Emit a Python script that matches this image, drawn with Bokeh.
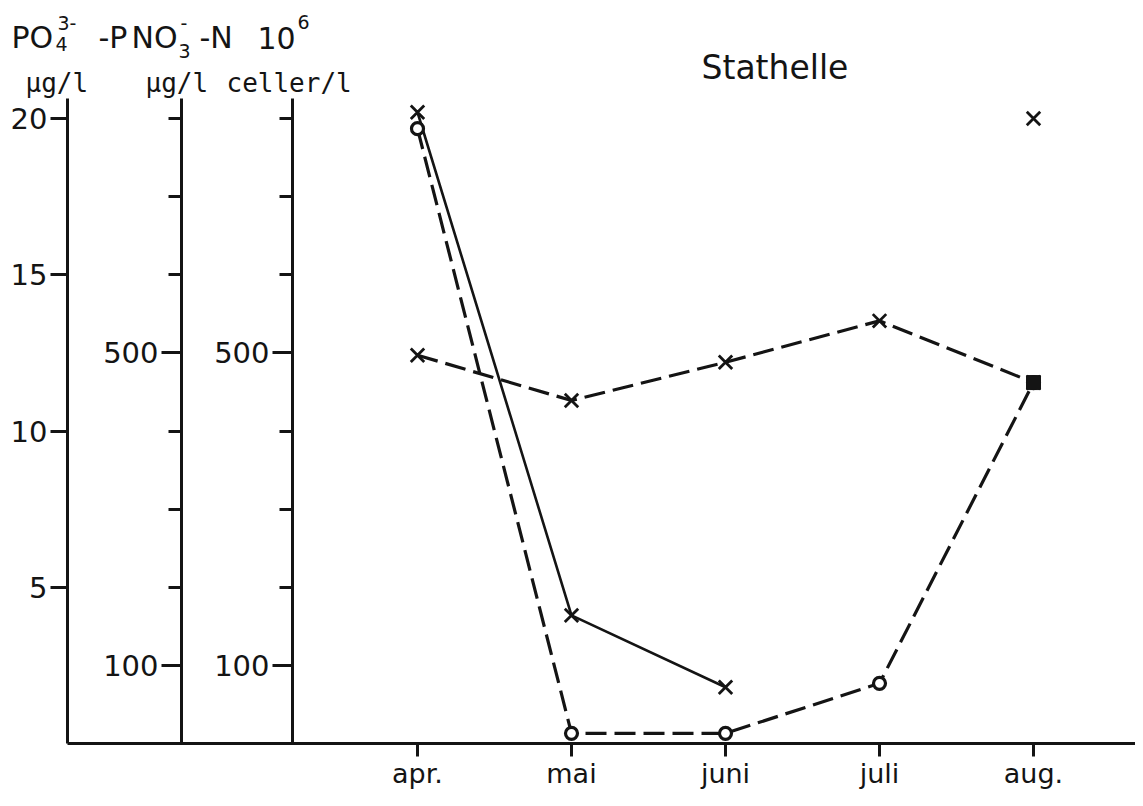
from bokeh.plotting import figure
from bokeh.models import Range1d, LinearAxis, FixedTicker, Label
from bokeh.embed import file_html
from bokeh.resources import INLINE

# ---------------- data ----------------
months = ["apr.", "mai", "juni", "juli", "aug."]
month_x = [0, 1, 2, 3, 4]
po4 = [20.2, 4.1, 1.8, float("nan"), 20.0]     # PO4(3-)-P, ug/l   (solid, x)
no3 = [787, 13, 13, 77, 462]                   # NO3(-)-N, ug/l    (dashed, o)
cells = [497, 439, 488, 541, 462]              # 10^6 celler/l     (dashed, x)

po4_ticks = [5, 10, 15, 20]
no3_ticks = [100, 500]
no3_minor = [200, 300, 400, 600, 700, 800]
cells_ticks = [100, 500]
cells_minor = [200, 300, 400, 600, 700, 800]

# ---------------- layout ----------------
INK = "#141414"
FONT = "DejaVu Sans"
MONO = "DejaVu Sans Mono"
W, H = 1135, 790
PX_X = 154.0            # px per month
X0 = 417.0              # px of first month
BASE = 743.0            # px of the zero line
PX_Y = 0.78125          # px per ug/l
AX_TOP = 98.0           # px where the vertical axes end

x_start = -X0 / PX_X
x_end = (W - X0) / PX_X
y_start = -(H - BASE) / PX_Y
y_end = BASE / PX_Y


def sx(px):
    return (px - X0) / PX_X


def sy(py):
    return (BASE - py) / PX_Y


top = sy(AX_TOP)

p = figure(width=W, height=H, output_backend="svg", toolbar_location=None,
           x_range=Range1d(x_start, x_end), y_range=Range1d(y_start, y_end),
           x_axis_location=None, y_axis_location=None,
           min_border_left=0, min_border_right=0, min_border_top=0, min_border_bottom=0)
p.extra_y_ranges = {"po4": Range1d(y_start / 40.0, y_end / 40.0),
                    "cells": Range1d(y_start, y_end)}
p.outline_line_color = None
p.grid.visible = False
p.background_fill_color = "white"
p.border_fill_color = "white"


def style(ax, tick_out, minor_out, size="29px", standoff=3, font=FONT):
    ax.axis_line_color = INK
    ax.axis_line_width = 3
    ax.major_tick_line_color = INK
    ax.major_tick_line_width = 3
    ax.major_tick_in = 0
    ax.major_tick_out = tick_out
    ax.minor_tick_line_color = INK
    ax.minor_tick_line_width = 3
    ax.minor_tick_in = 0
    ax.minor_tick_out = minor_out
    ax.major_label_text_font = font
    ax.major_label_text_font_size = size
    ax.major_label_text_color = INK
    ax.major_label_standoff = standoff


# x axis (zero line)
xa = LinearAxis(fixed_location=0, bounds=(sx(67), x_end),
                ticker=FixedTicker(ticks=month_x, minor_ticks=[]))
xa.major_label_overrides = {m: lab for m, lab in zip(month_x, months)}
style(xa, 13, 0, size="27px", standoff=1)
p.add_layout(xa, "below")

# PO4 axis
ax_po4 = LinearAxis(y_range_name="po4", fixed_location=sx(67), bounds=(0, top / 40.0),
                    ticker=FixedTicker(ticks=po4_ticks, minor_ticks=[]))
style(ax_po4, 17, 0)
p.add_layout(ax_po4, "left")

# NO3 axis
ax_no3 = LinearAxis(fixed_location=sx(181), bounds=(0, top),
                    ticker=FixedTicker(ticks=no3_ticks, minor_ticks=no3_minor))
style(ax_no3, 20, 13)
p.add_layout(ax_no3, "left")

# cells axis
ax_cells = LinearAxis(y_range_name="cells", fixed_location=sx(292), bounds=(0, top),
                      ticker=FixedTicker(ticks=cells_ticks, minor_ticks=cells_minor))
style(ax_cells, 20, 13)
p.add_layout(ax_cells, "left")

# ---------------- series ----------------
DASH = "21 8"
p.line(month_x, po4, y_range_name="po4", line_color=INK, line_width=2.6)
p.line(month_x, no3, line_color=INK, line_width=3.2, line_dash=DASH)
p.line(month_x, cells, y_range_name="cells", line_color=INK, line_width=3.2, line_dash=DASH)

p.scatter(month_x, po4, y_range_name="po4", marker="x", size=19, line_color=INK, line_width=2.8)
p.scatter(month_x, cells, y_range_name="cells", marker="x", size=19, line_color=INK, line_width=2.8)
p.scatter(month_x, no3, marker="circle", size=12, line_color=INK, line_width=3.2, fill_color="white")
# the overlapping markers at aug form a dark blob
p.scatter([month_x[4]], [no3[4]], marker="square", size=14, line_color=INK, fill_color=INK)


# ---------------- texts ----------------
def lab(text, px, py, size, font=FONT):
    p.add_layout(Label(x=sx(px), y=sy(py), text=text, text_font=font,
                       text_font_size=size, text_color=INK, text_align="left",
                       text_baseline="alphabetic"))


BIG, SMALL = "30px", "19px"
lab("PO", 11, 37, BIG)
lab("4", 55, 43, SMALL)
lab("3-", 57, 22, SMALL)
lab("-P", 98, 37, BIG)
lab("NO", 131, 37, BIG)
lab("3", 178, 50, SMALL)
lab("-", 180, 22, SMALL)
lab("-N", 199, 37, BIG)
lab("10", 257, 37, BIG)
lab("6", 297, 21, SMALL)
lab("\u00b5g/l", 25, 82, "26px", MONO)
lab("\u00b5g/l", 145, 82, "26px", MONO)
lab("celler/l", 226, 82, "26px", MONO)
lab("Stathelle", 701, 67, "33px")

open("out.html", "w").write(file_html(p, INLINE))
